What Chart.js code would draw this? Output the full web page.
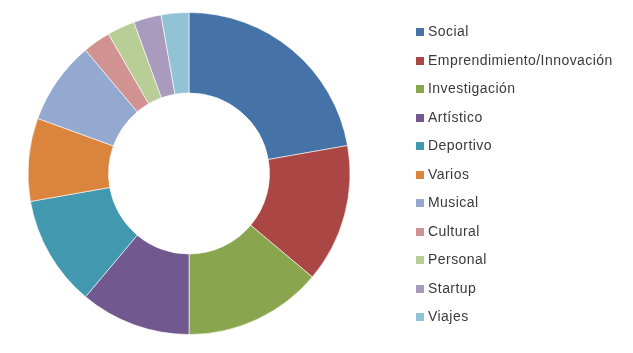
<!DOCTYPE html>
<html lang="es">
<head>
  <meta charset="UTF-8" />
  <title>Proyectos por tipo</title>
  <style>
    body {
      margin: 0;
      padding: 0;
      background: #fff;
      font-family: "Liberation Sans", Arial, sans-serif;
    }
    .wrap {
      position: relative;
      width: 633px;
      height: 353px;
    }
    #chart {
      position: absolute;
      left: 0;
      top: 0;
    }
    /* leyenda a la derecha */
    .legend {
      position: absolute;
      left: 416px;
      top: 17px;
      margin: 0;
      padding: 0;
      list-style: none;
    }
    .legend li {
      height: 28.5px;
      line-height: 28.5px;
      font-size: 14px;
      letter-spacing: 0.45px;
      color: #3a3a3a;
      white-space: nowrap;
    }
    .legend .box {
      display: inline-block;
      width: 8px;
      height: 8px;
      margin-right: 4px;
      vertical-align: 0px;
    }
  </style>
  <script src="https://cdn.jsdelivr.net/npm/chart.js"></script>
</head>
<body>
  <div class="wrap">
    <canvas id="chart" width="633" height="353"></canvas>
    <ul class="legend" id="legend"></ul>
  </div>
  <script>
    // categorias y valores
    const categories = ['Social', 'Emprendimiento/Innovación', 'Investigación', 'Artístico', 'Deportivo',
      'Varios', 'Musical', 'Cultural', 'Personal', 'Startup', 'Viajes'];
    const values = [8, 5, 5, 4, 4, 3, 3, 1, 1, 1, 1];
    const colors = ['#4572A7', '#AA4643', '#89A54E', '#71588F', '#4198AF',
      '#DB843D', '#93A9CF', '#D19392', '#B9CD96', '#A99BBD', '#92C3D4'];

    const ctx = document.getElementById('chart').getContext('2d');
    new Chart(ctx, {
      type: 'doughnut',
      data: {
        labels: categories,
        datasets: [{
          data: values,
          backgroundColor: colors,
          borderColor: 'rgba(255,255,255,0.6)',
          borderWidth: 1,
          hoverOffset: 0
        }]
      },
      options: {
        responsive: false,
        animation: false,
        cutout: '50%',
        layout: {
          padding: { left: 27, top: 12, right: 282, bottom: 18 }
        },
        plugins: {
          legend: { display: false },
          tooltip: { enabled: false }
        }
      }
    });

    // leyenda en HTML
    const legend = document.getElementById('legend');
    categories.forEach((name, i) => {
      const li = document.createElement('li');
      const box = document.createElement('span');
      box.className = 'box';
      box.style.background = colors[i];
      li.appendChild(box);
      li.appendChild(document.createTextNode(name));
      legend.appendChild(li);
    });
  </script>
</body>
</html>
